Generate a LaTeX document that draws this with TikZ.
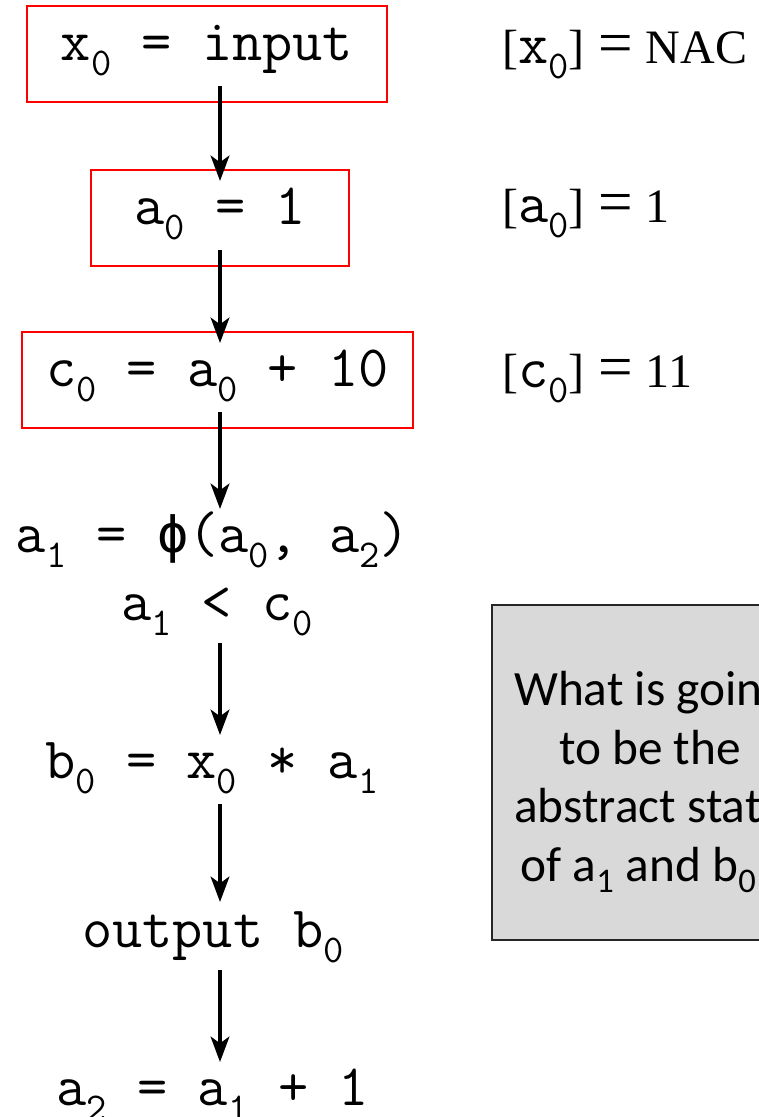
\documentclass[tikz,border=0pt]{standalone}
\usepackage{fontspec}
\setmainfont{Liberation Serif}
\newfontfamily\notefont{Carlito}
\newfontfamily\phifont{DejaVu Sans Mono}
\usetikzlibrary{arrows.meta,calc}
\definecolor{notegray}{RGB}{217,217,217}
\newcommand{\codesize}{\ttfamily\fontsize{44}{46}\selectfont}
\newcommand{\sub}[1]{\raisebox{-0.27em}{\fontsize{29.5}{30}\selectfont #1}}
\newcommand{\cv}[2]{{\codesize #1\sub{#2}}}
\newcommand{\eqsign}{\hspace{10pt}{\fontsize{46}{46}\selectfont =}\hspace{10pt}}
\newcommand{\phisym}{{\phifont\fontsize{39}{40}\selectfont\symbol{"03D5}}}
\tikzset{
  codeline/.style={
    font=\codesize,
    inner sep=0pt,
    anchor=base
  },
  codebox/.style={
    draw=red,
    line width=1pt,
    font=\codesize,
    text height=20pt,
    text depth=11pt,
    minimum height=72pt,
    inner sep=0pt
  },
  absval/.style={
    font=\fontsize{36}{38}\selectfont,
    inner sep=0pt,
    anchor=base west
  },
  note/.style={
    draw=black!85,
    line width=1.2pt,
    fill=notegray,
    font=\notefont\fontsize{37}{44}\selectfont,
    align=center,
    minimum width=237pt,
    minimum height=251.25pt,
    inner sep=0pt
  },
  flow/.style={
    -{Stealth[length=19pt,width=14pt,inset=5pt]},
    line width=3pt
  }
}

\begin{document}
\begin{tikzpicture}[x=0.75pt,y=-0.75pt]
\useasboundingbox (0,0) rectangle (758,1117);
\coordinate (ax) at (220,0);
\node[codebox,minimum width=270pt] (inp) at (207,54) {x\sub{0} = input};
\node[codebox,minimum width=193.5pt] (a0) at (220,218) {a\sub{0} = 1};
\node[codebox,minimum width=293.25pt] (c0) at (217.5,380) {c\sub{0} = a\sub{0} + 10};
\node[codeline] (phi) at (213,552) {a\sub{1} = \phisym(a\sub{0}, a\sub{2})};
\node[codeline] (cond) at (217,620) {a\sub{1} < c\sub{0}};
\node[codeline] (b0) at (212,778) {b\sub{0} = x\sub{0} * a\sub{1}};
\node[codeline] (out) at (213,947) {output b\sub{0}};
\node[codeline] (a2) at (213,1105) {a\sub{2} = a\sub{1} + 1};

\node[absval] (vx) at (502,63) {[\cv{x}{0}]\eqsign NAC};
\node[absval] (va) at (502,222) {[\cv{a}{0}]\eqsign 1};
\node[absval] (vc) at (502,387) {[\cv{c}{0}]\eqsign 11};

\node[note] (ask) at (650,772.5) {\rule{0pt}{40pt}What is going\\to be the\\abstract state\\of a\textsubscript{1} and b\textsubscript{0}?};

\draw[flow] ($(inp.base -| ax)+(0,26)$) -- ($(a0.base -| ax)+(0,-43)$);
\draw[flow] ($(a0.base -| ax)+(0,26)$) -- ($(c0.base -| ax)+(0,-43)$);
\draw[flow] ($(c0.base -| ax)+(0,26)$) -- ($(phi.base -| ax)+(0,-43)$);
\draw[flow] ($(cond.base -| ax)+(0,23)$) -- ($(b0.base -| ax)+(0,-43)$);
\draw[flow] ($(b0.base -| ax)+(0,26)$) -- ($(out.base -| ax)+(0,-45)$);
\draw[flow] ($(out.base -| ax)+(0,23)$) -- ($(a2.base -| ax)+(0,-43)$);
\end{tikzpicture}
\end{document}
